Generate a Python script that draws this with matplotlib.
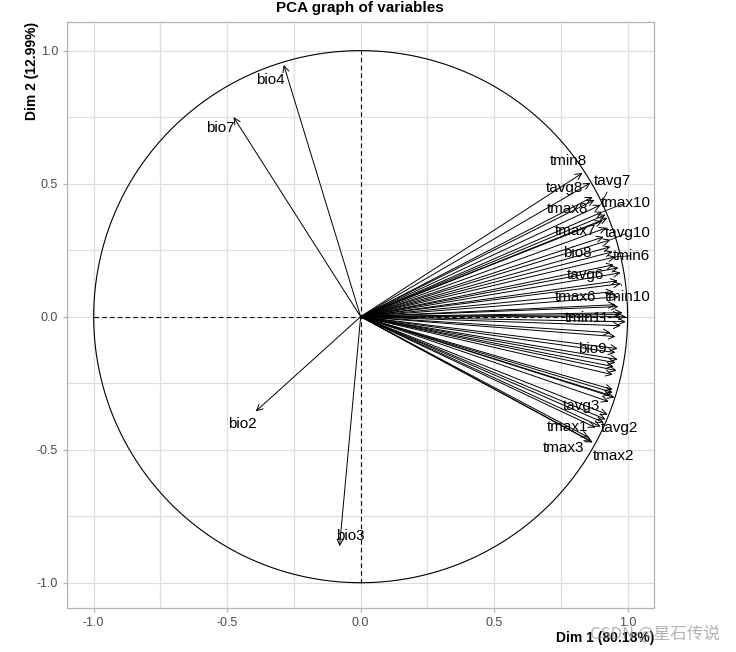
import numpy as np
import matplotlib
matplotlib.use("Agg")
import matplotlib.pyplot as plt

# ---- data: variable coordinates on Dim 1 / Dim 2 ----
var_names = [
    "tmin8", "tavg8", "tmax8", "tmin7", "tavg7", "tmax10", "tmin9", "tavg9", "tmax9", "bio10",
    "tmax7", "tavg10", "bio8", "tmin5", "tmin6", "tmax5", "tavg5", "tavg6", "bio5", "tmin10",
    "tmax6", "tmax11", "bio1", "tavg11", "tmin4", "tmin11", "tmax4", "bio11", "tavg4", "tmin12",
    "tavg12", "bio9", "tmax12", "bio6", "tmin3", "tmin1", "bio16", "bio12", "bio13", "bio17",
    "bio19", "tmin2", "bio14", "tavg3", "bio15", "bio18", "tmax1", "tmax3", "tavg1", "tavg2",
    "tmax2", "bio2", "bio3", "bio4", "bio7",
]
dim1 = [
    0.831, 0.861, 0.869, 0.876, 0.899, 0.906, 0.918, 0.925, 0.906, 0.921,
    0.910, 0.936, 0.936, 0.944, 0.955, 0.948, 0.966, 0.974, 0.963, 0.974,
    0.948, 0.966, 0.955, 0.966, 0.981, 0.993, 0.974, 0.993, 0.974, 0.936,
    0.955, 0.963, 0.955, 0.963, 0.955, 0.948, 0.959, 0.944, 0.944, 0.944,
    0.936, 0.951, 0.929, 0.925, 0.918, 0.910, 0.880, 0.869, 0.854, 0.899,
    0.865, -0.393, -0.079, -0.288, -0.476,
]
dim2 = [
    0.540, 0.503, 0.450, 0.439, 0.420, 0.394, 0.383, 0.371, 0.360, 0.334,
    0.300, 0.289, 0.263, 0.244, 0.225, 0.195, 0.184, 0.165, 0.135, 0.124,
    0.094, 0.075, 0.045, 0.038, 0.015, 0.000, 0.008, -0.019, -0.034, -0.060,
    -0.075, -0.120, -0.135, -0.161, -0.173, -0.188, -0.203, -0.218, -0.274, -0.285,
    -0.296, -0.304, -0.319, -0.368, -0.386, -0.398, -0.417, -0.473, -0.454, -0.413,
    -0.469, -0.356, -0.863, 0.946, 0.750,
]
shown_labels = ["tmin8", "tavg8", "tavg7", "tmax10", "tmax8", "tavg10", "tmax7", "bio8",
                "tmin6", "tavg6", "tmax6", "tmin10", "tmin11", "bio9", "tavg3", "tmax1",
                "tavg2", "tmax3", "tmax2", "bio4", "bio7", "bio2", "bio3"]
pct_dim1 = 80.18
pct_dim2 = 12.99
tick_values = [-1.0, -0.5, 0.0, 0.5, 1.0]
tick_labels = ["-1.0", "-0.5", "0.0", "0.5", "1.0"]

# label placement (layout only)
label_pos = {
    "tmin8": (0.779, 0.585), "tavg8": (0.764, 0.484), "tavg7": (0.944, 0.510),
    "tmax10": (0.993, 0.428), "tmax8": (0.775, 0.405), "tavg10": (1.000, 0.315),
    "tmax7": (0.805, 0.323), "bio8": (0.813, 0.240), "tmin6": (1.015, 0.229),
    "tavg6": (0.843, 0.158), "tmax6": (0.805, 0.075), "tmin10": (1.000, 0.075),
    "tmin11": (0.850, -0.004), "bio9": (0.869, -0.120), "tavg3": (0.828, -0.334),
    "tmax1": (0.775, -0.413), "tavg2": (0.970, -0.420), "tmax3": (0.760, -0.495),
    "tmax2": (0.948, -0.522), "bio4": (-0.337, 0.889), "bio7": (-0.524, 0.709),
    "bio2": (-0.442, -0.405), "bio3": (-0.037, -0.826),
}
with_leader = {"tavg7", "tmax10", "tavg10", "tmin6", "tmin10"}

plt.rcParams['font.family'] = ['Liberation Sans', 'DejaVu Sans']

fig = plt.figure(figsize=(7.36, 6.52), dpi=100)
ax = fig.add_axes([0.091, 0.0675, 0.798, 0.8985])
ax.set_xlim(-1.1, 1.1)
ax.set_ylim(-1.095, 1.107)

# grid (theme_light-like)
for v in np.arange(-1.0, 1.01, 0.25):
    ax.axvline(v, color="#DEDEDE", lw=0.9, zorder=0)
    ax.axhline(v, color="#DEDEDE", lw=0.9, zorder=0)
for s in ax.spines.values():
    s.set_color("#B3B3B3")
    s.set_linewidth(0.9)

ax.set_xticks(tick_values)
ax.set_xticklabels(tick_labels)
ax.set_yticks(tick_values)
ax.set_yticklabels(tick_labels)
ax.tick_params(colors="#B3B3B3", labelcolor="#4D4D4D", labelsize=9, length=3, width=0.9)

# unit circle and dashed axes
theta = np.linspace(0, 2 * np.pi, 400)
ax.plot(np.cos(theta), np.sin(theta), color="black", lw=0.8, zorder=2)
ax.plot([-1, 1], [0, 0], color="black", lw=0.8, ls=(0, (4, 3)), zorder=2)
ax.plot([0, 0], [-1, 1], color="black", lw=0.8, ls=(0, (4, 3)), zorder=2)

# arrows
for name, x, y in zip(var_names, dim1, dim2):
    ax.annotate("", xy=(x, y), xytext=(0, 0),
                arrowprops=dict(arrowstyle="->", color="black", lw=0.7,
                                mutation_scale=11, shrinkA=0, shrinkB=0),
                zorder=3)

coords = {n: (x, y) for n, x, y in zip(var_names, dim1, dim2)}
for name in shown_labels:
    lx, ly = label_pos[name]
    if name in with_leader:
        ax.annotate(name, xy=coords[name], xytext=(lx, ly), ha="center", va="center",
                    fontsize=11, color="black", zorder=4,
                    arrowprops=dict(arrowstyle="-", color="black", lw=0.6,
                                    shrinkA=1, shrinkB=0))
    else:
        ax.text(lx, ly, name, ha="center", va="center", fontsize=11, color="black", zorder=4)

fig.text(0.4895, 0.987, "PCA graph of variables", ha="center", va="center",
         fontsize=11, fontweight="bold")
fig.text(0.889, 0.022, f"Dim 1 ({pct_dim1:.2f}%)", ha="right", va="center",
         fontsize=10, fontweight="bold")
fig.text(0.043, 0.966, f"Dim 2 ({pct_dim2:.2f}%)", ha="center", va="top",
         rotation=90, fontsize=10, fontweight="bold")

fig.text(0.978, 0.028, "CSDN @星石传说", ha="right", va="center", fontsize=12,
         color="#9A9A9A", alpha=0.75, family=["Noto Sans CJK SC", "DejaVu Sans"])

fig.savefig("out.png", dpi=100)
